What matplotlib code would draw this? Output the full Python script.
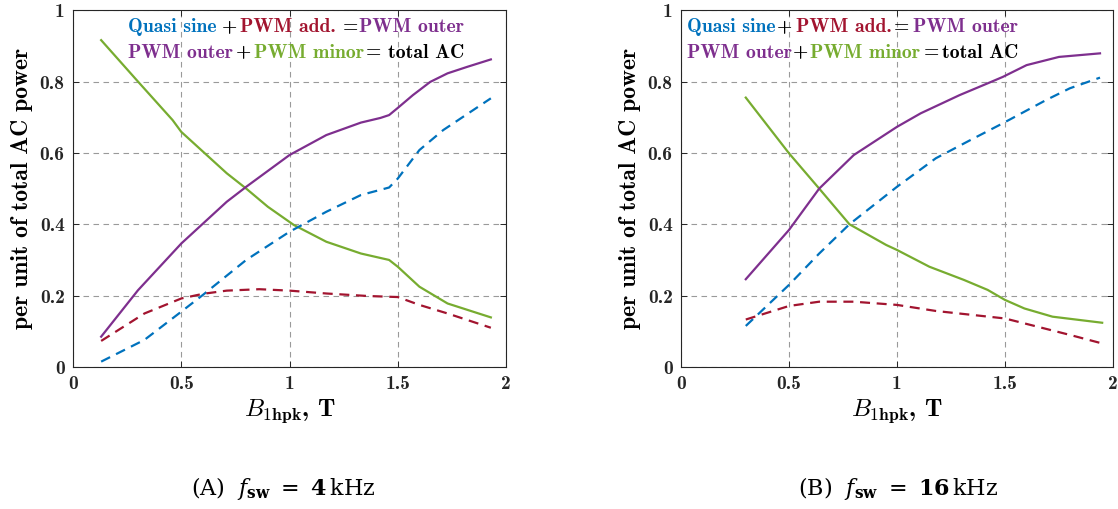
import matplotlib
matplotlib.use("Agg")
import matplotlib.pyplot as plt

plt.rcParams['mathtext.fontset'] = 'cm'
plt.rcParams['axes.unicode_minus'] = False

# ---------------- data: panel A (f_sw = 4 kHz) ----------------
xa_outer = [0.13, 0.30, 0.50, 0.71, 0.80, 1.00, 1.17, 1.33, 1.42, 1.46, 1.50, 1.57, 1.65, 1.73, 1.82, 1.93]
ya_outer = [0.085, 0.215, 0.346, 0.463, 0.505, 0.594, 0.650, 0.685, 0.698, 0.706, 0.726, 0.762, 0.799, 0.823, 0.841, 0.862]
xa_minor = [0.13, 0.30, 0.46, 0.50, 0.71, 0.80, 0.90, 1.02, 1.17, 1.33, 1.46, 1.50, 1.60, 1.73, 1.93]
ya_minor = [0.916, 0.800, 0.692, 0.659, 0.543, 0.500, 0.449, 0.398, 0.351, 0.318, 0.300, 0.281, 0.225, 0.178, 0.139]
xa_quasi = [0.13, 0.33, 0.50, 0.60, 0.80, 1.00, 1.17, 1.33, 1.46, 1.50, 1.60, 1.71, 1.93]
ya_quasi = [0.015, 0.076, 0.155, 0.202, 0.300, 0.379, 0.435, 0.482, 0.503, 0.528, 0.608, 0.664, 0.753]
xa_add = [0.13, 0.33, 0.50, 0.60, 0.71, 0.86, 1.00, 1.17, 1.36, 1.50, 1.60, 1.73, 1.93]
ya_add = [0.073, 0.150, 0.192, 0.205, 0.214, 0.218, 0.214, 0.206, 0.199, 0.196, 0.174, 0.150, 0.110]

# ---------------- data: panel B (f_sw = 16 kHz) ----------------
xb_outer = [0.30, 0.50, 0.64, 0.80, 1.00, 1.11, 1.29, 1.42, 1.49, 1.60, 1.75, 1.94]
yb_outer = [0.246, 0.384, 0.500, 0.594, 0.673, 0.711, 0.762, 0.795, 0.813, 0.846, 0.869, 0.879]
xb_minor = [0.30, 0.50, 0.64, 0.78, 0.95, 1.00, 1.15, 1.31, 1.42, 1.50, 1.59, 1.72, 1.95]
yb_minor = [0.755, 0.599, 0.500, 0.400, 0.342, 0.328, 0.281, 0.244, 0.216, 0.188, 0.164, 0.141, 0.124]
xb_quasi = [0.30, 0.50, 0.64, 0.78, 1.00, 1.18, 1.34, 1.49, 1.69, 1.80, 1.94]
yb_quasi = [0.115, 0.230, 0.318, 0.400, 0.505, 0.585, 0.636, 0.683, 0.748, 0.781, 0.811]
xb_add = [0.30, 0.50, 0.64, 0.80, 1.00, 1.18, 1.50, 1.65, 1.80, 1.95]
yb_add = [0.133, 0.171, 0.183, 0.183, 0.174, 0.157, 0.136, 0.113, 0.090, 0.066]

x_ticks = [0, 0.5, 1, 1.5, 2]
x_ticklabels = ['0', '0.5', '1', '1.5', '2']
y_ticks = [0, 0.2, 0.4, 0.6, 0.8, 1]
y_ticklabels = ['0', '0.2', '0.4', '0.6', '0.8', '1']
captions = [r'(A)  $f_{\mathbf{sw}}\ =\ \mathbf{4}\,$kHz', r'(B)  $f_{\mathbf{sw}}\ =\ \mathbf{16}\,$kHz']

# legend-like annotation pieces
note_line1 = ['Quasi sine', '+', 'PWM add.', '=', 'PWM outer']
note_line2 = ['PWM outer', '+', 'PWM minor', '=', 'total AC']

C_BLUE = '#0072BD'
C_RED = '#A2142F'
C_PURPLE = '#7E2F8E'
C_GREEN = '#77AC30'
BOLD = 'cmb10'
colors1 = [C_BLUE, 'k', C_RED, 'k', C_PURPLE]
colors2 = [C_PURPLE, 'k', C_GREEN, 'k', 'k']

W, H = 1118, 509
fig = plt.figure(figsize=(W / 100, H / 100), dpi=100)
ax_a = fig.add_axes([0.0653, 0.279, 0.3873, 0.701])
ax_b = fig.add_axes([0.6091, 0.279, 0.3864, 0.701])

panels = [
    (ax_a, (xa_quasi, ya_quasi), (xa_add, ya_add), (xa_outer, ya_outer), (xa_minor, ya_minor)),
    (ax_b, (xb_quasi, yb_quasi), (xb_add, yb_add), (xb_outer, yb_outer), (xb_minor, yb_minor)),
]

for ax, q, a, o, m in panels:
    ax.plot(*m, color=C_GREEN, lw=1.6)
    ax.plot(*o, color=C_PURPLE, lw=1.6)
    ax.plot(*q, color=C_BLUE, lw=1.6, ls=(0, (4.5, 3.0)))
    ax.plot(*a, color=C_RED, lw=1.6, ls=(0, (4.5, 3.0)))
    ax.set_xlim(0, 2)
    ax.set_ylim(0, 1)
    ax.set_xticks(x_ticks)
    ax.set_xticklabels(x_ticklabels, fontfamily=BOLD, fontsize=14)
    ax.set_yticks(y_ticks)
    ax.set_yticklabels(y_ticklabels, fontfamily=BOLD, fontsize=14)
    ax.tick_params(direction='in', top=True, right=True, length=4, width=0.7,
                   colors='#262626', pad=6)
    for s in ax.spines.values():
        s.set_color('#262626')
        s.set_linewidth(0.8)
    ax.grid(True, color='#9a9a9a', ls=(0, (5, 4)), lw=0.8)
    ax.set_axisbelow(True)
    ax.set_xlabel(r'$B_{\mathbf{1hpk}}$, T', fontfamily=BOLD, fontsize=18, labelpad=3)
    ax.set_ylabel('per unit of total AC power', fontfamily=BOLD, fontsize=17, labelpad=5)


def note(pieces, colors, lefts_px, baseline_px):
    # lefts_px / baseline_px: figure-pixel layout positions of each text piece
    for s, c, xp in zip(pieces, colors, lefts_px):
        fig.text((xp - 1) / W, 1 - baseline_px / H, s, color=c, fontfamily=BOLD,
                 fontsize=14.2, ha='left', va='baseline')


note(note_line1, colors1, [129.3, 222.5, 240.7, 343.5, 360.0], 32.5)
note(note_line2, colors2, [129.3, 237.0, 255.0, 367.0, 389.3], 57.5)
note(note_line1, colors1, [688.3, 778.0, 796.7, 895.0, 914.0], 32.5)
note(note_line2, colors2, [688.3, 794.0, 811.0, 925.0, 943.0], 57.5)

fig.text(0.253, 0.041, captions[0], ha='center', va='center', fontsize=16,
         fontfamily='DejaVu Serif', math_fontfamily='dejavuserif')
fig.text(0.803, 0.041, captions[1], ha='center', va='center', fontsize=16,
         fontfamily='DejaVu Serif', math_fontfamily='dejavuserif')

fig.savefig('out.png', dpi=100)
